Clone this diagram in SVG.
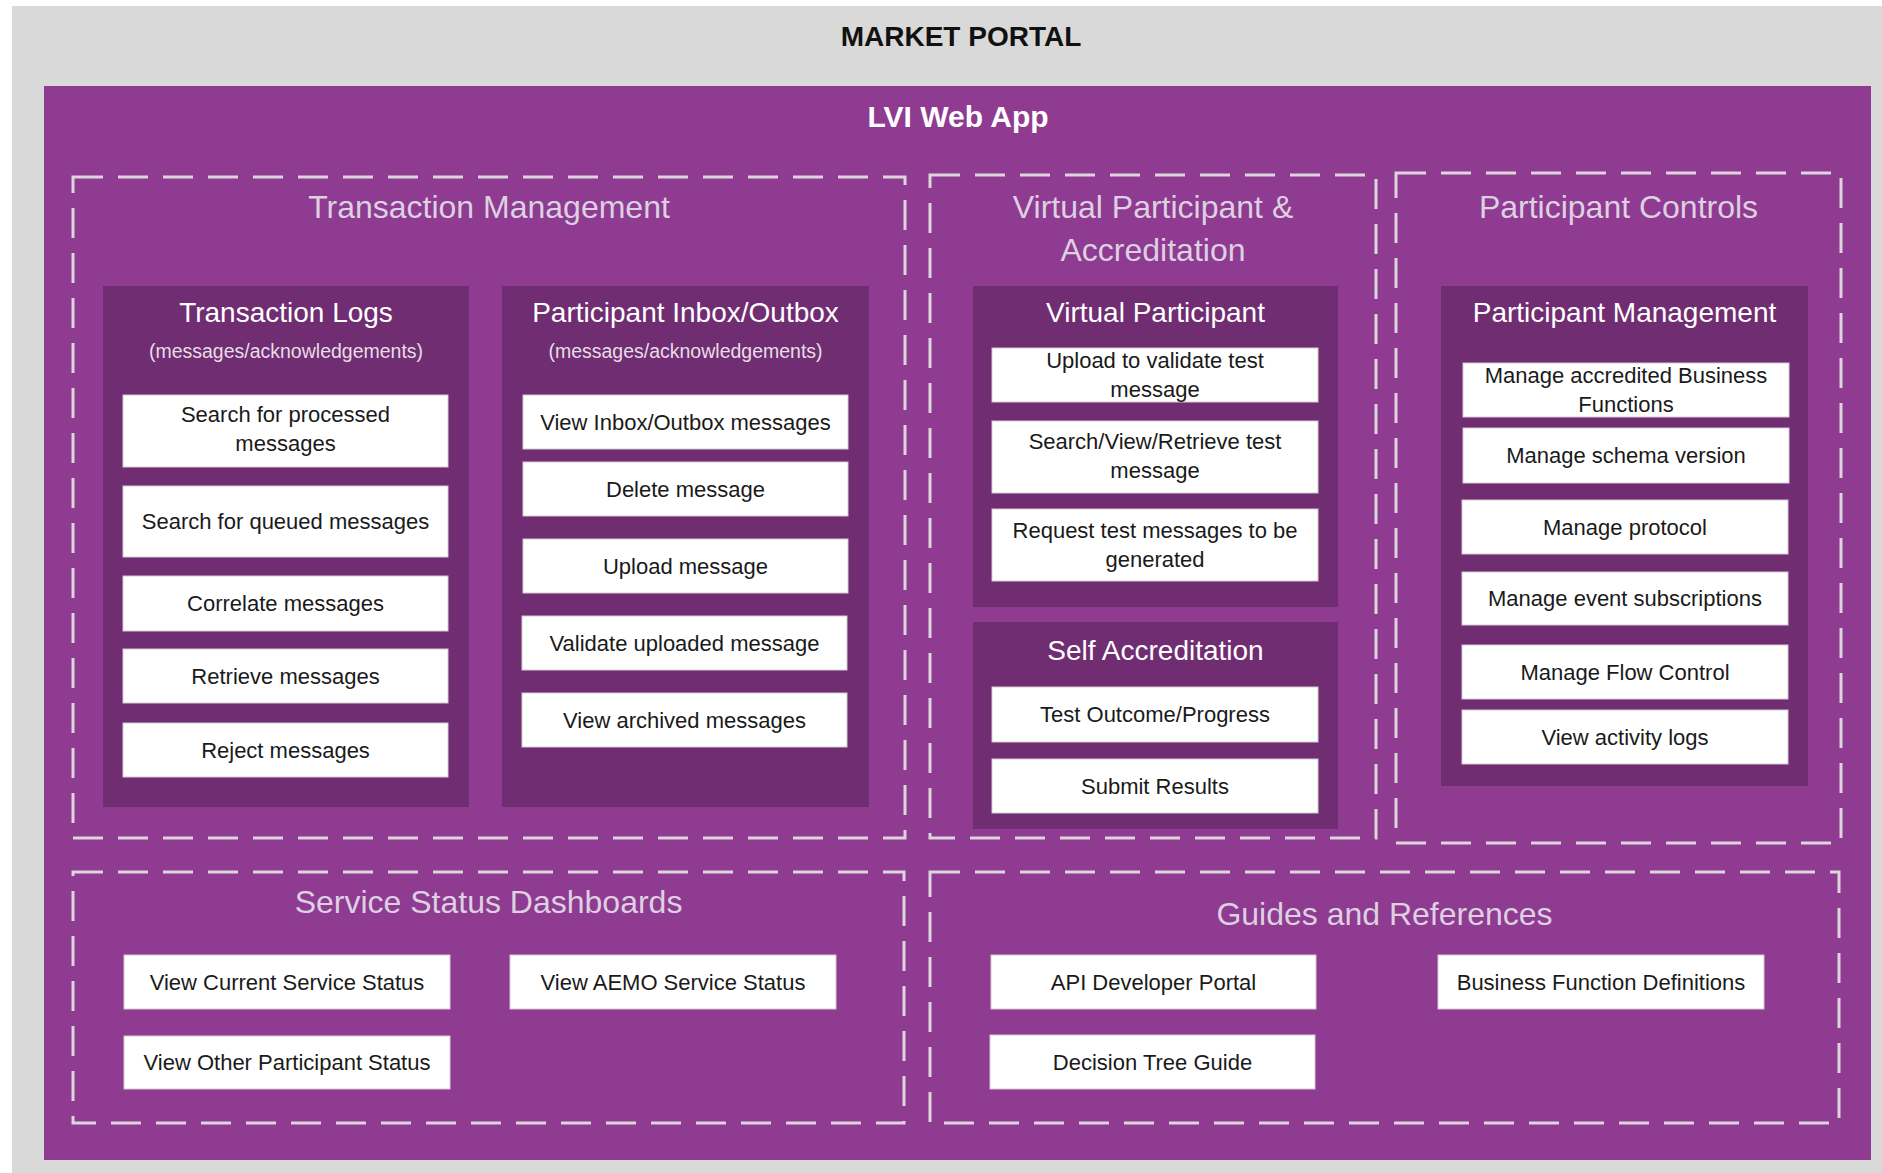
<svg xmlns="http://www.w3.org/2000/svg" width="1882" height="1173" viewBox="0 0 1882 1173">
<style>
.bg{fill:#d9d9d9}
.app{fill:#8e3b91}
.dash{fill:none;stroke:#dcd6dc;stroke-width:3;stroke-dasharray:30 15}
.dark{fill:#702d71}
.item{fill:#ffffff;stroke:#d2cbd2;stroke-width:1}
text{font-family:"Liberation Sans",Arial,sans-serif;text-anchor:middle}
.t-portal{font-size:28px;font-weight:bold;fill:#111111}
.t-app{font-size:30px;font-weight:bold;fill:#ffffff}
.t-group{font-size:32px;fill:#ddd0e0}
.t-dark{font-size:28px;fill:#ffffff}
.t-sub{font-size:19.5px;fill:#e6dde8}
.t-item{font-size:22px;fill:#1a1a1a}
</style>
<rect x="0" y="0" width="1882" height="1173" fill="#ffffff"/>
<g id="market-portal">
<rect class="bg" x="12" y="6" width="1870" height="1167"/>
<text class="t-portal" x="961" y="46">MARKET PORTAL</text>
</g>
<g id="lvi-web-app">
<rect class="app" x="44" y="86" width="1827" height="1074"/>
<text class="t-app" x="958" y="127">LVI Web App</text>
</g>

<g id="transaction-management">
<rect class="dash" x="73" y="177" width="832" height="661"/>
<text class="t-group" x="489" y="218">Transaction Management</text>
</g>
<g id="transaction-logs">
<rect class="dark" x="103" y="286" width="366" height="521"/>
<text class="t-dark" x="286" y="322">Transaction Logs</text>
<text class="t-sub" x="286" y="358">(messages/acknowledgements)</text>
</g>
<g id="search-processed"><rect class="item" x="123" y="395" width="325" height="72"/><text class="t-item" x="285.5" y="422">Search for processed</text><text class="t-item" x="285.5" y="451">messages</text></g>
<g id="search-queued"><rect class="item" x="123" y="486" width="325" height="71"/><text class="t-item" x="285.5" y="529">Search for queued messages</text></g>
<g id="correlate"><rect class="item" x="123" y="576" width="325" height="55"/><text class="t-item" x="285.5" y="611">Correlate messages</text></g>
<g id="retrieve"><rect class="item" x="123" y="649" width="325" height="54"/><text class="t-item" x="285.5" y="684">Retrieve messages</text></g>
<g id="reject"><rect class="item" x="123" y="723" width="325" height="54"/><text class="t-item" x="285.5" y="758">Reject messages</text></g>

<g id="participant-inbox-outbox">
<rect class="dark" x="502" y="286" width="367" height="521"/>
<text class="t-dark" x="685.5" y="322">Participant Inbox/Outbox</text>
<text class="t-sub" x="685.5" y="358">(messages/acknowledgements)</text>
</g>
<g id="view-inbox"><rect class="item" x="523" y="395" width="325" height="54"/><text class="t-item" x="685.5" y="430">View Inbox/Outbox messages</text></g>
<g id="delete-message"><rect class="item" x="523" y="462" width="325" height="54"/><text class="t-item" x="685.5" y="497">Delete message</text></g>
<g id="upload-message"><rect class="item" x="523" y="539" width="325" height="54"/><text class="t-item" x="685.5" y="574">Upload message</text></g>
<g id="validate-uploaded"><rect class="item" x="522" y="616" width="325" height="54"/><text class="t-item" x="684.5" y="651">Validate uploaded message</text></g>
<g id="view-archived"><rect class="item" x="522" y="693" width="325" height="54"/><text class="t-item" x="684.5" y="728">View archived messages</text></g>

<g id="virtual-participant-accreditation">
<rect class="dash" x="930" y="175" width="446" height="663"/>
<text class="t-group" x="1153" y="218">Virtual Participant &amp;</text>
<text class="t-group" x="1153" y="261">Accreditation</text>
</g>
<g id="virtual-participant">
<rect class="dark" x="973" y="286" width="365" height="321"/>
<text class="t-dark" x="1155.5" y="322">Virtual Participant</text>
</g>
<g id="upload-validate"><rect class="item" x="992" y="348" width="326" height="54"/><text class="t-item" x="1155" y="368">Upload to validate test</text><text class="t-item" x="1155" y="397">message</text></g>
<g id="search-view-retrieve"><rect class="item" x="992" y="421" width="326" height="72"/><text class="t-item" x="1155" y="449">Search/View/Retrieve test</text><text class="t-item" x="1155" y="478">message</text></g>
<g id="request-test"><rect class="item" x="992" y="509" width="326" height="72"/><text class="t-item" x="1155" y="538">Request test messages to be</text><text class="t-item" x="1155" y="567">generated</text></g>

<g id="self-accreditation">
<rect class="dark" x="973" y="622" width="365" height="207"/>
<text class="t-dark" x="1155.5" y="660">Self Accreditation</text>
</g>
<g id="test-outcome"><rect class="item" x="992" y="687" width="326" height="55"/><text class="t-item" x="1155" y="722">Test Outcome/Progress</text></g>
<g id="submit-results"><rect class="item" x="992" y="759" width="326" height="54"/><text class="t-item" x="1155" y="794">Submit Results</text></g>

<g id="participant-controls">
<rect class="dash" x="1396" y="173" width="445" height="670"/>
<text class="t-group" x="1618.5" y="218">Participant Controls</text>
</g>
<g id="participant-management">
<rect class="dark" x="1441" y="286" width="367" height="500"/>
<text class="t-dark" x="1624.5" y="322">Participant Management</text>
</g>
<g id="manage-accredited"><rect class="item" x="1463" y="363" width="326" height="54"/><text class="t-item" x="1626" y="383">Manage accredited Business</text><text class="t-item" x="1626" y="412">Functions</text></g>
<g id="manage-schema"><rect class="item" x="1463" y="428" width="326" height="55"/><text class="t-item" x="1626" y="463">Manage schema version</text></g>
<g id="manage-protocol"><rect class="item" x="1462" y="500" width="326" height="54"/><text class="t-item" x="1625" y="535">Manage protocol</text></g>
<g id="manage-event"><rect class="item" x="1462" y="572" width="326" height="53"/><text class="t-item" x="1625" y="606">Manage event subscriptions</text></g>
<g id="manage-flow"><rect class="item" x="1462" y="645" width="326" height="54"/><text class="t-item" x="1625" y="680">Manage Flow Control</text></g>
<g id="view-activity"><rect class="item" x="1462" y="710" width="326" height="54"/><text class="t-item" x="1625" y="745">View activity logs</text></g>

<g id="service-status-dashboards">
<rect class="dash" x="73" y="872" width="831" height="251"/>
<text class="t-group" x="488.5" y="913">Service Status Dashboards</text>
</g>
<g id="view-current"><rect class="item" x="124" y="955" width="326" height="54"/><text class="t-item" x="287" y="990">View Current Service Status</text></g>
<g id="view-aemo"><rect class="item" x="510" y="955" width="326" height="54"/><text class="t-item" x="673" y="990">View AEMO Service Status</text></g>
<g id="view-other"><rect class="item" x="124" y="1036" width="326" height="53"/><text class="t-item" x="287" y="1070">View Other Participant Status</text></g>

<g id="guides-references">
<rect class="dash" x="930" y="872" width="909" height="251"/>
<text class="t-group" x="1384.5" y="925">Guides and References</text>
</g>
<g id="api-portal"><rect class="item" x="991" y="955" width="325" height="54"/><text class="t-item" x="1153.5" y="990">API Developer Portal</text></g>
<g id="business-function"><rect class="item" x="1438" y="955" width="326" height="54"/><text class="t-item" x="1601" y="990">Business Function Definitions</text></g>
<g id="decision-tree"><rect class="item" x="990" y="1035" width="325" height="54"/><text class="t-item" x="1152.5" y="1070">Decision Tree Guide</text></g>

<g id="connectors"></g>
</svg>
